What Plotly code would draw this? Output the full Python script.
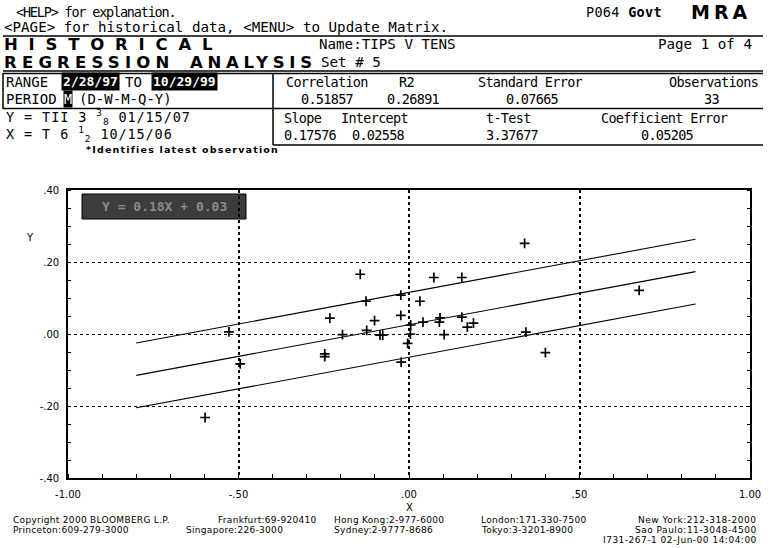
import plotly.graph_objects as go

W, H = 773, 548

# ---------------- data ----------------
x_vals = [-0.598, -0.528, -0.495, -0.247, -0.247, -0.232, -0.195, -0.143, -0.126, -0.124,
          -0.101, -0.085, -0.077, -0.024, -0.024, -0.023, -0.004, 0.004, 0.005, 0.032,
          0.041, 0.073, 0.089, 0.091, 0.103, 0.155, 0.155, 0.171, 0.189, 0.339,
          0.343, 0.400, 0.675]
y_vals = [-0.232, 0.006, -0.083, -0.055, -0.063, 0.044, -0.002, 0.166, 0.091, 0.010,
          0.037, -0.003, -0.003, 0.108, 0.052, -0.078, -0.026, 0.000, 0.025, 0.091,
          0.033, 0.157, 0.033, 0.045, -0.002, 0.157, 0.047, 0.019, 0.030, 0.252,
          0.005, -0.052, 0.121]
slope = 0.17576
intercept = 0.02558
band = 0.09
line_x = [-0.80, 0.84]

x_tickvals = [-1.0, -0.5, 0.0, 0.5, 1.0]
x_ticktext = ["-1.00", "-.50", ".00", ".50", "1.00"]
y_tickvals = [-0.4, -0.2, 0.0, 0.2, 0.4]
y_ticktext = ["-.40", "-.20", ".00", ".20", ".40"]

stats_head = ["Correlation", "R2", "Standard Error", "Observations"]
stats_vals = ["0.51857", "0.26891", "0.07665", "33"]
coef_head = ["Slope", "Intercept", "t-Test", "Coefficient Error"]
coef_vals = ["0.17576", "0.02558", "3.37677", "0.05205"]

MONO = "DejaVu Sans Mono"
SANS = "DejaVu Sans"

fig = go.Figure()

# regression line and band
mid = [intercept + slope * v for v in line_x]
for off in (band, 0.0, -band):
    fig.add_trace(go.Scatter(x=line_x, y=[m + off for m in mid], mode="lines",
                             line=dict(color="black", width=1.1),
                             hoverinfo="skip", showlegend=False))

fig.add_trace(go.Scatter(x=x_vals, y=y_vals, mode="markers",
                         marker=dict(symbol="cross-thin", size=7,
                                     line=dict(color="black", width=1.7)),
                         showlegend=False))

px_l, px_r, px_t, px_b = 68, 750, 190, 478


def PX(x):
    return x / W


def PY(y):
    return 1 - y / H


fig.update_layout(
    template="none",
    width=W, height=H, margin=dict(l=0, r=0, t=0, b=0, autoexpand=False),
    paper_bgcolor="white", plot_bgcolor="white",
    xaxis=dict(domain=[PX(px_l), PX(px_r)], range=[-1, 1], tickvals=x_tickvals,
               ticktext=x_ticktext, showgrid=True, gridcolor="black", gridwidth=1.6,
               griddash="dot", zeroline=False, showline=True, linecolor="black",
               linewidth=2, mirror=True, ticks="", ticklabelstandoff=6, automargin=False,
               tickfont=dict(family=SANS, size=10, color="black"),
               minor=dict(dtick=0.1, ticks="inside", ticklen=4, tickcolor="black",
                          showgrid=False)),
    yaxis=dict(domain=[PY(px_b), PY(px_t)], range=[-0.4, 0.4], tickvals=y_tickvals,
               ticktext=y_ticktext, showgrid=True, gridcolor="black", gridwidth=1,
               griddash="dot", zeroline=False, showline=True, linecolor="black",
               linewidth=1.6, mirror="allticks", ticks="", ticklabelstandoff=5,
               automargin=False,
               tickfont=dict(family=SANS, size=10, color="black"),
               minor=dict(dtick=0.05, ticks="inside", ticklen=3, tickcolor="black",
                          showgrid=False)),
)

ann = []


def txt(x, y, s, size=13.5, family=MONO, anchor="left", color="black", bg=None,
        pad=0, yanchor="middle", sp=None):
    if sp is not None:
        s = '<span style="letter-spacing:%.1fpx">%s</span>' % (sp, s)
    d = dict(x=PX(x), y=PY(y), xref="paper", yref="paper", text=s, showarrow=False,
             xanchor=anchor, yanchor=yanchor,
             font=dict(family=family, size=size, color=color), borderpad=pad)
    if bg:
        d["bgcolor"] = bg
    ann.append(d)


def big(x, y, s, size=16.5, sp=8.0):
    txt(x, y, '<b><span style="letter-spacing:%.1fpx">%s</span></b>' % (sp, s),
        size=size, family=SANS)


SP = -0.7  # tighten the monospace grid a little

# header rows
txt(15, 12, "&lt;HELP&gt; for explanation.", sp=-1.2)
txt(585, 12, "P064 <b>Govt</b>", size=13.5, sp=0.3)
big(690, 12, "MRA", size=19, sp=4)
txt(3, 27, "&lt;PAGE&gt; for historical data, &lt;MENU&gt; to Update Matrix.", size=14.2)
big(3, 45, "HISTORICAL", sp=10.8)
big(3, 62, "REGRESSION", sp=5.2)
big(189, 62, "ANALYSIS", sp=4.7)
txt(318, 44, "Name:TIPS V TENS", size=14.2)
txt(657, 44, "Page 1 of 4", size=14.2)
txt(320, 62, "Set # 5", size=14.2)

# range / period box
txt(5, 82, "RANGE", size=14)
txt(61, 82, "<b>2/28/97</b>", color="white", bg="black", pad=1, size=13)
txt(124, 82, "TO", size=14)
txt(151, 82, "<b>10/29/99</b>", color="white", bg="black", pad=1, size=13)
txt(5, 99, "PERIOD", size=14)
txt(63, 99, "M", color="white", bg="black", pad=0)
txt(78, 99, "(D-W-M-Q-Y)", size=14)

# stats
hx = [285, 398, 477, 668]
vx = [300, 386, 505, 703]
for h, x in zip(stats_head, hx):
    txt(x, 82, h, sp=SP)
for v, x in zip(stats_vals, vx):
    txt(x, 99, v, sp=SP)
cx = [283, 340, 485, 600]
cvx = [283, 351, 485, 640]
for h, x in zip(coef_head, cx):
    txt(x, 118, h, sp=SP)
for v, x in zip(coef_vals, cvx):
    txt(x, 135, v, sp=SP)

txt(5, 117, "Y = TII 3 <sup>3</sup><sub>8</sub> 01/15/07", size=13.5, sp=0.9)
txt(5, 134, "X = T 6 <sup>1</sup><sub>2</sub> 10/15/06", size=13.5, sp=0.9)
txt(85, 150, "<b>*Identifies latest observation</b>", size=9.5, family=SANS, sp=1.2)

# axis titles
txt(30, 237, "Y", size=10, family=SANS, anchor="center")
txt(409, 507, "X", size=10, family=SANS, anchor="center")

# legend-like dark box
txt(164, 206, "<b>Y = 0.18X + 0.03</b>", size=13, family=MONO, anchor="center",
    color="#8a8a8a")

# footer
FS = 9
for x, y, s in [(12, 520, "Copyright 2000 BLOOMBERG L.P."), (217, 520, "Frankfurt:69-920410"),
                (333, 520, "Hong Kong:2-977-6000"), (480, 520, "London:171-330-7500"),
                (12, 530, "Princeton:609-279-3000"), (185, 530, "Singapore:226-3000"),
                (333, 530, "Sydney:2-9777-8686"), (480, 530, "Tokyo:3-3201-8900")]:
    txt(x, y, s, size=FS, family=SANS, sp=0.3)
for y, s in [(520, "New York:212-318-2000"), (530, "Sao Paulo:11-3048-4500"),
             (540, "I731-267-1 02-Jun-00 14:04:00")]:
    txt(758, y, s, size=FS, family=SANS, anchor="right", sp=0.5)

shapes = []


def hline(y, x0, x1, w=1.5):
    shapes.append(dict(type="line", xref="paper", yref="paper", x0=PX(x0), x1=PX(x1),
                       y0=PY(y), y1=PY(y), line=dict(color="black", width=w)))


def vline(x, y0, y1, w=1.5):
    shapes.append(dict(type="line", xref="paper", yref="paper", x0=PX(x), x1=PX(x),
                       y0=PY(y0), y1=PY(y1), line=dict(color="black", width=w)))


hline(36, 3, 763)
hline(71, 3, 763, 1.5)
hline(73.5, 3, 763, 1.5)
hline(108.5, 3, 763)
hline(145, 273, 763)
vline(3, 73, 109)
vline(273, 73, 145)

shapes.append(dict(type="rect", xref="paper", yref="paper", x0=PX(82), x1=PX(246),
                   y0=PY(219), y1=PY(194), fillcolor="#3c3c3c",
                   line=dict(color="black", width=1), layer="below"))

fig.update_layout(annotations=ann, shapes=shapes)
fig.write_html("out.html", config={"displayModeBar": False},
               post_script="document.body.style.margin='0px';"
                           "document.body.style.overflow='hidden';")
